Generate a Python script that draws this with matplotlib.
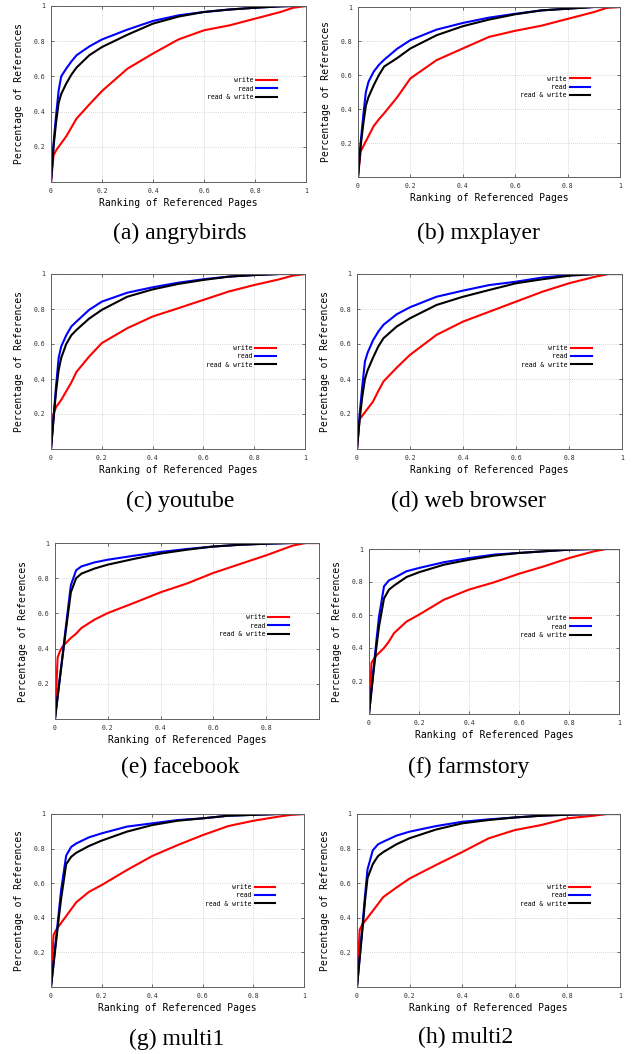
import matplotlib
matplotlib.use("Agg")
import matplotlib.pyplot as plt
import numpy as np

# ranking of referenced pages (fraction), shared sample points
rank = [0, 0.01, 0.02, 0.03, 0.04, 0.06, 0.08, 0.1, 0.15, 0.2,
        0.3, 0.4, 0.5, 0.6, 0.7, 0.8, 0.9, 0.95, 1.0]

apps = ["angrybirds", "mxplayer", "youtube", "web browser",
        "facebook", "farmstory", "multi1", "multi2"]
letters = ["a", "b", "c", "d", "e", "f", "g", "h"]

write_angrybirds = [0, .15, .18, .20, .22, .26, .31, .36, .44, .517, .644, .73, .81, .862, .89, .928, .966, .99, 1]
read_angrybirds = [0, .22, .38, .52, .60, .645, .685, .72, .77, .81, .866, .915, .947, .966, .98, .99, .998, 1, 1]
rw_angrybirds = [0, .20, .34, .45, .50, .56, .61, .65, .72, .767, .837, .90, .94, .966, .98, .99, .998, 1, 1]

write_mxplayer = [0, .15, .18, .21, .24, .30, .34, .375, .47, .58, .6875, .756, .824, .86, .89, .93, .97, .995, 1]
read_mxplayer = [0, .20, .36, .50, .56, .62, .66, .69, .755, .805, .867, .906, .9375, .96, .98, .99, 1, 1, 1]
rw_mxplayer = [0, .18, .31, .42, .47, .54, .60, .65, .70, .756, .834, .887, .926, .957, .98, .99, 1, 1, 1]

write_youtube = [0, .20, .24, .26, .28, .33, .38, .44, .528, .605, .69, .757, .804, .852, .90, .937, .97, .99, 1]
read_youtube = [0, .18, .36, .52, .585, .65, .70, .728, .795, .842, .893, .924, .95, .97, .985, .994, 1, 1, 1]
rw_youtube = [0, .17, .33, .45, .52, .60, .65, .68, .745, .795, .87, .912, .943, .966, .985, .994, 1, 1, 1]

write_browser = [0, .17, .19, .21, .23, .27, .33, .386, .465, .538, .652, .728, .785, .842, .899, .947, .985, 1, 1]
read_browser = [0, .20, .36, .50, .55, .62, .67, .71, .77, .81, .87, .905, .937, .956, .98, .994, 1, 1, 1]
rw_browser = [0, .17, .30, .40, .45, .52, .585, .633, .70, .747, .823, .87, .909, .947, .97, .99, 1, 1, 1]

write_facebook = [0, .35, .39, .415, .43, .46, .485, .517, .565, .602, .66, .72, .77, .83, .88, .93, .985, 1, 1]
read_facebook = [0, .13, .254, .38, .51, .76, .845, .867, .89, .905, .928, .949, .966, .98, .99, .996, 1, 1, 1]
rw_facebook = [0, .125, .25, .37, .49, .72, .80, .826, .855, .877, .91, .94, .962, .98, .99, .996, 1, 1, 1]

write_farmstory = [0, .31, .335, .355, .37, .40, .44, .49, .56, .602, .693, .754, .798, .85, .895, .945, .986, 1, 1]
read_farmstory = [0, .15, .30, .45, .59, .774, .81, .824, .865, .885, .92, .945, .966, .976, .986, .996, 1, 1, 1]
rw_farmstory = [0, .14, .28, .41, .53, .70, .754, .778, .83, .859, .905, .935, .96, .976, .986, .996, 1, 1, 1]

write_multi1 = [0, .30, .33, .35, .37, .41, .45, .49, .55, .589, .676, .757, .82, .878, .93, .961, .985, .995, 1]
read_multi1 = [0, .14, .28, .42, .56, .76, .81, .83, .865, .888, .927, .946, .965, .975, .99, .995, 1, 1, 1]
rw_multi1 = [0, .13, .26, .39, .51, .71, .753, .776, .815, .846, .898, .936, .961, .975, .99, .995, 1, 1, 1]

write_multi2 = [0, .33, .36, .38, .40, .44, .48, .52, .575, .627, .705, .78, .859, .907, .936, .975, .99, 1, 1]
read_multi2 = [0, .17, .34, .52, .68, .79, .825, .84, .875, .898, .93, .955, .969, .98, .99, .996, 1, 1, 1]
rw_multi2 = [0, .16, .32, .49, .63, .71, .757, .78, .825, .86, .91, .946, .965, .98, .99, .996, 1, 1, 1]

writes = [write_angrybirds, write_mxplayer, write_youtube, write_browser,
          write_facebook, write_farmstory, write_multi1, write_multi2]
reads = [read_angrybirds, read_mxplayer, read_youtube, read_browser,
         read_facebook, read_farmstory, read_multi1, read_multi2]
rws = [rw_angrybirds, rw_mxplayer, rw_youtube, rw_browser,
       rw_facebook, rw_farmstory, rw_multi1, rw_multi2]

x_ticks = [0, 0.2, 0.4, 0.6, 0.8, 1]
x_ticklabels = ["0", "0.2", "0.4", "0.6", "0.8", "1"]
y_ticks = [0.2, 0.4, 0.6, 0.8, 1]
y_ticklabels = ["0.2", "0.4", "0.6", "0.8", "1"]

W, H = 634, 1054
# panel boxes in pixels: left, right, top, bottom
boxes = [(51, 306, 6, 182), (358, 620, 7, 177),
         (51, 305, 274, 449), (357, 622, 274, 449),
         (55, 319, 543, 719), (369, 619, 549, 714),
         (51, 304, 814, 987), (357, 620, 814, 987)]
# caption centers in pixels
captions = [(180, 233), (478, 233), (180, 501), (468, 501),
            (180, 767), (469, 767), (177, 1039), (466, 1037)]

mono = "DejaVu Sans Mono"
fig = plt.figure(figsize=(W / 100, H / 100), dpi=100)

for i in range(8):
    l, r, t, b = boxes[i]
    ax = fig.add_axes([l / W, 1 - b / H, (r - l) / W, (b - t) / H])
    ax.plot(rank, writes[i], color="#ff0000", lw=1.5, label="write".rjust(12))
    ax.plot(rank, reads[i], color="#0000ff", lw=1.5, label="read".rjust(12))
    ax.plot(rank, rws[i], color="black", lw=1.5, label="read & write")
    ax.set_xlim(0, 1)
    ax.set_ylim(0, 1)
    ax.set_xticks(x_ticks)
    if apps[i] == "facebook":
        ax.set_xticklabels(x_ticklabels[:-1] + [""])
    else:
        ax.set_xticklabels(x_ticklabels)
    ax.set_yticks(y_ticks)
    ax.set_yticklabels(y_ticklabels)
    ax.tick_params(direction="in", length=2.5, width=0.5, labelsize=4.7,
                   top=True, right=True, pad=4, colors="#333333")
    for lab in ax.get_xticklabels() + ax.get_yticklabels():
        lab.set_family(mono)
    ax.grid(True, color="#b0b0b0", lw=0.5, linestyle=(0, (1, 2)))
    for sp in ax.spines.values():
        sp.set_color("#606060")
        sp.set_linewidth(0.7)
    ax.set_xlabel("Ranking of Referenced Pages", family=mono, fontsize=7, labelpad=3)
    ax.set_ylabel("Percentage of References", family=mono, fontsize=7, labelpad=7)
    ax.legend(loc="center right", bbox_to_anchor=(0.887, 0.53),
              frameon=False, markerfirst=False, borderpad=0, borderaxespad=0,
              handlelength=3.2, handletextpad=0.5, labelspacing=0.35,
              prop={"family": mono, "size": 4.7})
    fig.text(captions[i][0] / W, 1 - captions[i][1] / H,
             "(%s) %s" % (letters[i], apps[i]), ha="center", va="center",
             family="Liberation Serif", fontsize=17)

fig.savefig("out.png", dpi=100)
